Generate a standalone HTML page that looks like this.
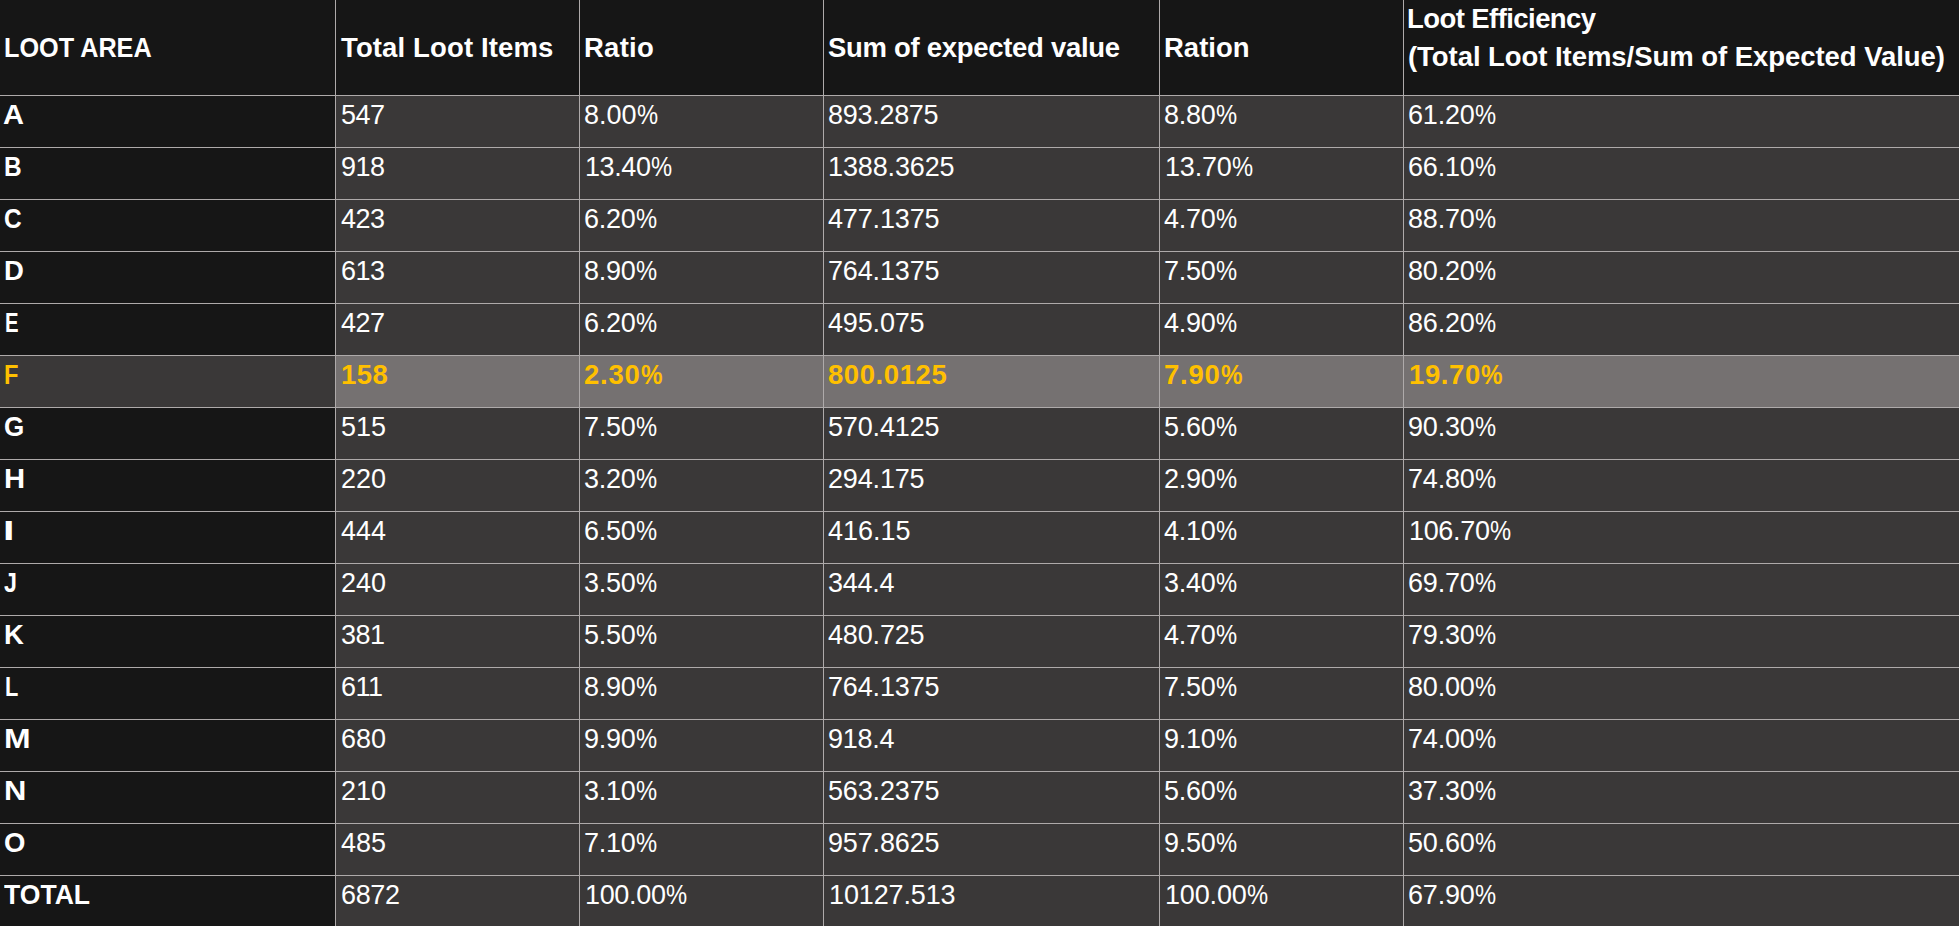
<!DOCTYPE html><html><head><meta charset="utf-8"><title>Loot table</title><style>
html,body{margin:0;padding:0}html{background:#3a3838}body{width:1959px;height:926px;position:relative;overflow:hidden;background:#3a3838;font-family:"Liberation Sans",Arial,sans-serif;color:#fff}
.r{position:absolute}.t{position:absolute;white-space:nowrap}.b{font-weight:bold}.g{color:#ffc000}.p{display:inline-block;width:.78em;transform:scaleX(.88);transform-origin:0 0}
</style></head><body>
<div class="r" style="left:0;top:0;width:1959px;height:95px;background:#161616"></div>
<div class="r" style="left:0;top:0;width:335px;height:926px;background:#161616"></div>
<div class="r" style="left:0;top:355px;width:335px;height:52px;background:#3a3838"></div>
<div class="r" style="left:335px;top:355px;width:1624px;height:52px;background:#757171"></div>
<div class="r" style="left:0;top:95px;width:1959px;height:1px;background:#aeaaaa"></div>
<div class="r" style="left:0;top:147px;width:1959px;height:1px;background:#aeaaaa"></div>
<div class="r" style="left:0;top:199px;width:1959px;height:1px;background:#aeaaaa"></div>
<div class="r" style="left:0;top:251px;width:1959px;height:1px;background:#aeaaaa"></div>
<div class="r" style="left:0;top:303px;width:1959px;height:1px;background:#aeaaaa"></div>
<div class="r" style="left:0;top:355px;width:1959px;height:1px;background:#aeaaaa"></div>
<div class="r" style="left:0;top:407px;width:1959px;height:1px;background:#aeaaaa"></div>
<div class="r" style="left:0;top:459px;width:1959px;height:1px;background:#aeaaaa"></div>
<div class="r" style="left:0;top:511px;width:1959px;height:1px;background:#aeaaaa"></div>
<div class="r" style="left:0;top:563px;width:1959px;height:1px;background:#aeaaaa"></div>
<div class="r" style="left:0;top:615px;width:1959px;height:1px;background:#aeaaaa"></div>
<div class="r" style="left:0;top:667px;width:1959px;height:1px;background:#aeaaaa"></div>
<div class="r" style="left:0;top:719px;width:1959px;height:1px;background:#aeaaaa"></div>
<div class="r" style="left:0;top:771px;width:1959px;height:1px;background:#aeaaaa"></div>
<div class="r" style="left:0;top:823px;width:1959px;height:1px;background:#aeaaaa"></div>
<div class="r" style="left:0;top:875px;width:1959px;height:1px;background:#aeaaaa"></div>
<div class="r" style="left:335px;top:0;width:1px;height:926px;background:#aeaaaa"></div>
<div class="r" style="left:579px;top:0;width:1px;height:926px;background:#aeaaaa"></div>
<div class="r" style="left:823px;top:0;width:1px;height:926px;background:#aeaaaa"></div>
<div class="r" style="left:1159px;top:0;width:1px;height:926px;background:#aeaaaa"></div>
<div class="r" style="left:1403px;top:0;width:1px;height:926px;background:#aeaaaa"></div>
<div class="t b" style="left:4.00px;top:33.72px;font-size:27.50px;line-height:27.50px;transform:scaleX(0.9177);transform-origin:0 0">LOOT AREA</div>
<div class="t b" style="left:341.00px;top:33.72px;font-size:27.50px;line-height:27.50px;letter-spacing:0.133px">Total Loot Items</div>
<div class="t b" style="left:584.00px;top:33.72px;font-size:27.50px;line-height:27.50px;letter-spacing:0.250px">Ratio</div>
<div class="t b" style="left:828.00px;top:33.72px;font-size:27.50px;line-height:27.50px;letter-spacing:-0.300px">Sum of expected value</div>
<div class="t b" style="left:1164.00px;top:33.72px;font-size:27.50px;line-height:27.50px">Ration</div>
<div class="t b" style="left:1407.00px;top:4.72px;font-size:27.50px;line-height:27.50px;letter-spacing:-0.571px">Loot Efficiency</div>
<div class="t b" style="left:1408.00px;top:42.72px;font-size:27.50px;line-height:27.50px;letter-spacing:-0.051px">(Total Loot Items/Sum of Expected Value)</div>
<div class="t b" style="left:3.00px;top:100.72px;font-size:27.50px;line-height:27.50px;transform:scaleX(1.0556);transform-origin:0 0">A</div>
<div class="t" style="left:341.00px;top:102.14px;font-size:27.00px;line-height:27.00px;letter-spacing:-0.500px">547</div>
<div class="t" style="left:584.00px;top:102.14px;font-size:27.00px;line-height:27.00px">8.00<span class="p">%</span></div>
<div class="t" style="left:828.00px;top:102.14px;font-size:27.00px;line-height:27.00px;letter-spacing:-0.286px">893.2875</div>
<div class="t" style="left:1164.00px;top:102.14px;font-size:27.00px;line-height:27.00px;letter-spacing:-0.250px">8.80<span class="p">%</span></div>
<div class="t" style="left:1408.00px;top:102.14px;font-size:27.00px;line-height:27.00px;letter-spacing:-0.200px">61.20<span class="p">%</span></div>
<div class="t b" style="left:4.00px;top:152.72px;font-size:27.50px;line-height:27.50px;transform:scaleX(0.8863);transform-origin:0 0">B</div>
<div class="t" style="left:341.00px;top:154.14px;font-size:27.00px;line-height:27.00px;letter-spacing:-0.500px">918</div>
<div class="t" style="left:585.00px;top:154.14px;font-size:27.00px;line-height:27.00px;letter-spacing:-0.400px">13.40<span class="p">%</span></div>
<div class="t" style="left:828.00px;top:154.14px;font-size:27.00px;line-height:27.00px;letter-spacing:-0.125px">1388.3625</div>
<div class="t" style="left:1165.00px;top:154.14px;font-size:27.00px;line-height:27.00px;letter-spacing:-0.200px">13.70<span class="p">%</span></div>
<div class="t" style="left:1408.00px;top:154.14px;font-size:27.00px;line-height:27.00px;letter-spacing:-0.200px">66.10<span class="p">%</span></div>
<div class="t b" style="left:4.00px;top:204.72px;font-size:27.50px;line-height:27.50px;transform:scaleX(0.8889);transform-origin:0 0">C</div>
<div class="t" style="left:341.00px;top:206.14px;font-size:27.00px;line-height:27.00px;letter-spacing:-0.500px">423</div>
<div class="t" style="left:584.00px;top:206.14px;font-size:27.00px;line-height:27.00px;letter-spacing:-0.250px">6.20<span class="p">%</span></div>
<div class="t" style="left:828.00px;top:206.14px;font-size:27.00px;line-height:27.00px;letter-spacing:-0.143px">477.1375</div>
<div class="t" style="left:1164.00px;top:206.14px;font-size:27.00px;line-height:27.00px;letter-spacing:-0.250px">4.70<span class="p">%</span></div>
<div class="t" style="left:1408.00px;top:206.14px;font-size:27.00px;line-height:27.00px;letter-spacing:-0.200px">88.70<span class="p">%</span></div>
<div class="t b" style="left:4.00px;top:256.72px;font-size:27.50px;line-height:27.50px">D</div>
<div class="t" style="left:341.00px;top:258.14px;font-size:27.00px;line-height:27.00px;letter-spacing:-0.500px">613</div>
<div class="t" style="left:584.00px;top:258.14px;font-size:27.00px;line-height:27.00px;letter-spacing:-0.250px">8.90<span class="p">%</span></div>
<div class="t" style="left:828.00px;top:258.14px;font-size:27.00px;line-height:27.00px;letter-spacing:-0.143px">764.1375</div>
<div class="t" style="left:1164.00px;top:258.14px;font-size:27.00px;line-height:27.00px;letter-spacing:-0.250px">7.50<span class="p">%</span></div>
<div class="t" style="left:1408.00px;top:258.14px;font-size:27.00px;line-height:27.00px;letter-spacing:-0.200px">80.20<span class="p">%</span></div>
<div class="t b" style="left:5.00px;top:308.72px;font-size:27.50px;line-height:27.50px;transform:scaleX(0.7385);transform-origin:0 0">E</div>
<div class="t" style="left:341.00px;top:310.14px;font-size:27.00px;line-height:27.00px;letter-spacing:-0.500px">427</div>
<div class="t" style="left:584.00px;top:310.14px;font-size:27.00px;line-height:27.00px;letter-spacing:-0.250px">6.20<span class="p">%</span></div>
<div class="t" style="left:828.00px;top:310.14px;font-size:27.00px;line-height:27.00px;letter-spacing:-0.167px">495.075</div>
<div class="t" style="left:1164.00px;top:310.14px;font-size:27.00px;line-height:27.00px;letter-spacing:-0.250px">4.90<span class="p">%</span></div>
<div class="t" style="left:1408.00px;top:310.14px;font-size:27.00px;line-height:27.00px;letter-spacing:-0.200px">86.20<span class="p">%</span></div>
<div class="t b g" style="left:4.00px;top:360.72px;font-size:27.50px;line-height:27.50px;transform:scaleX(0.8571);transform-origin:0 0">F</div>
<div class="t b g" style="left:341.00px;top:360.72px;font-size:27.50px;line-height:27.50px;letter-spacing:0.500px">158</div>
<div class="t b g" style="left:584.00px;top:360.72px;font-size:27.50px;line-height:27.50px;letter-spacing:0.750px">2.30<span class="p">%</span></div>
<div class="t b g" style="left:828.00px;top:360.72px;font-size:27.50px;line-height:27.50px;letter-spacing:0.571px">800.0125</div>
<div class="t b g" style="left:1164.00px;top:360.72px;font-size:27.50px;line-height:27.50px;letter-spacing:0.750px">7.90<span class="p">%</span></div>
<div class="t b g" style="left:1409.00px;top:360.72px;font-size:27.50px;line-height:27.50px;letter-spacing:0.600px">19.70<span class="p">%</span></div>
<div class="t b" style="left:4.00px;top:412.72px;font-size:27.50px;line-height:27.50px;transform:scaleX(0.9474);transform-origin:0 0">G</div>
<div class="t" style="left:341.00px;top:414.14px;font-size:27.00px;line-height:27.00px">515</div>
<div class="t" style="left:584.00px;top:414.14px;font-size:27.00px;line-height:27.00px;letter-spacing:-0.250px">7.50<span class="p">%</span></div>
<div class="t" style="left:828.00px;top:414.14px;font-size:27.00px;line-height:27.00px;letter-spacing:-0.143px">570.4125</div>
<div class="t" style="left:1164.00px;top:414.14px;font-size:27.00px;line-height:27.00px;letter-spacing:-0.250px">5.60<span class="p">%</span></div>
<div class="t" style="left:1408.00px;top:414.14px;font-size:27.00px;line-height:27.00px;letter-spacing:-0.200px">90.30<span class="p">%</span></div>
<div class="t b" style="left:4.00px;top:464.72px;font-size:27.50px;line-height:27.50px;transform:scaleX(1.0625);transform-origin:0 0">H</div>
<div class="t" style="left:341.00px;top:466.14px;font-size:27.00px;line-height:27.00px">220</div>
<div class="t" style="left:584.00px;top:466.14px;font-size:27.00px;line-height:27.00px;letter-spacing:-0.250px">3.20<span class="p">%</span></div>
<div class="t" style="left:828.00px;top:466.14px;font-size:27.00px;line-height:27.00px;letter-spacing:-0.167px">294.175</div>
<div class="t" style="left:1164.00px;top:466.14px;font-size:27.00px;line-height:27.00px;letter-spacing:-0.250px">2.90<span class="p">%</span></div>
<div class="t" style="left:1408.00px;top:466.14px;font-size:27.00px;line-height:27.00px;letter-spacing:-0.200px">74.80<span class="p">%</span></div>
<div class="t b" style="left:3.00px;top:516.72px;font-size:27.50px;line-height:27.50px;transform:scaleX(1.5000);transform-origin:0 0">I</div>
<div class="t" style="left:341.00px;top:518.14px;font-size:27.00px;line-height:27.00px">444</div>
<div class="t" style="left:584.00px;top:518.14px;font-size:27.00px;line-height:27.00px;letter-spacing:-0.250px">6.50<span class="p">%</span></div>
<div class="t" style="left:828.00px;top:518.14px;font-size:27.00px;line-height:27.00px">416.15</div>
<div class="t" style="left:1164.00px;top:518.14px;font-size:27.00px;line-height:27.00px;letter-spacing:-0.250px">4.10<span class="p">%</span></div>
<div class="t" style="left:1409.00px;top:518.14px;font-size:27.00px;line-height:27.00px;letter-spacing:-0.333px">106.70<span class="p">%</span></div>
<div class="t b" style="left:4.00px;top:568.72px;font-size:27.50px;line-height:27.50px;transform:scaleX(0.8462);transform-origin:0 0">J</div>
<div class="t" style="left:341.00px;top:570.14px;font-size:27.00px;line-height:27.00px">240</div>
<div class="t" style="left:584.00px;top:570.14px;font-size:27.00px;line-height:27.00px;letter-spacing:-0.250px">3.50<span class="p">%</span></div>
<div class="t" style="left:828.00px;top:570.14px;font-size:27.00px;line-height:27.00px;letter-spacing:-0.250px">344.4</div>
<div class="t" style="left:1164.00px;top:570.14px;font-size:27.00px;line-height:27.00px;letter-spacing:-0.250px">3.40<span class="p">%</span></div>
<div class="t" style="left:1408.00px;top:570.14px;font-size:27.00px;line-height:27.00px;letter-spacing:-0.200px">69.70<span class="p">%</span></div>
<div class="t b" style="left:4.00px;top:620.72px;font-size:27.50px;line-height:27.50px">K</div>
<div class="t" style="left:341.00px;top:622.14px;font-size:27.00px;line-height:27.00px;letter-spacing:-0.500px">381</div>
<div class="t" style="left:584.00px;top:622.14px;font-size:27.00px;line-height:27.00px;letter-spacing:-0.250px">5.50<span class="p">%</span></div>
<div class="t" style="left:828.00px;top:622.14px;font-size:27.00px;line-height:27.00px;letter-spacing:-0.167px">480.725</div>
<div class="t" style="left:1164.00px;top:622.14px;font-size:27.00px;line-height:27.00px;letter-spacing:-0.250px">4.70<span class="p">%</span></div>
<div class="t" style="left:1408.00px;top:622.14px;font-size:27.00px;line-height:27.00px;letter-spacing:-0.200px">79.30<span class="p">%</span></div>
<div class="t b" style="left:5.00px;top:672.72px;font-size:27.50px;line-height:27.50px;transform:scaleX(0.7912);transform-origin:0 0">L</div>
<div class="t" style="left:341.00px;top:674.14px;font-size:27.00px;line-height:27.00px;letter-spacing:-0.500px">611</div>
<div class="t" style="left:584.00px;top:674.14px;font-size:27.00px;line-height:27.00px;letter-spacing:-0.250px">8.90<span class="p">%</span></div>
<div class="t" style="left:828.00px;top:674.14px;font-size:27.00px;line-height:27.00px;letter-spacing:-0.143px">764.1375</div>
<div class="t" style="left:1164.00px;top:674.14px;font-size:27.00px;line-height:27.00px;letter-spacing:-0.250px">7.50<span class="p">%</span></div>
<div class="t" style="left:1408.00px;top:674.14px;font-size:27.00px;line-height:27.00px;letter-spacing:-0.200px">80.00<span class="p">%</span></div>
<div class="t b" style="left:4.00px;top:724.72px;font-size:27.50px;line-height:27.50px;transform:scaleX(1.1601);transform-origin:0 0">M</div>
<div class="t" style="left:341.00px;top:726.14px;font-size:27.00px;line-height:27.00px">680</div>
<div class="t" style="left:584.00px;top:726.14px;font-size:27.00px;line-height:27.00px;letter-spacing:-0.250px">9.90<span class="p">%</span></div>
<div class="t" style="left:828.00px;top:726.14px;font-size:27.00px;line-height:27.00px;letter-spacing:-0.250px">918.4</div>
<div class="t" style="left:1164.00px;top:726.14px;font-size:27.00px;line-height:27.00px;letter-spacing:-0.250px">9.10<span class="p">%</span></div>
<div class="t" style="left:1408.00px;top:726.14px;font-size:27.00px;line-height:27.00px;letter-spacing:-0.200px">74.00<span class="p">%</span></div>
<div class="t b" style="left:4.00px;top:776.72px;font-size:27.50px;line-height:27.50px;transform:scaleX(1.1250);transform-origin:0 0">N</div>
<div class="t" style="left:341.00px;top:778.14px;font-size:27.00px;line-height:27.00px">210</div>
<div class="t" style="left:584.00px;top:778.14px;font-size:27.00px;line-height:27.00px;letter-spacing:-0.250px">3.10<span class="p">%</span></div>
<div class="t" style="left:828.00px;top:778.14px;font-size:27.00px;line-height:27.00px;letter-spacing:-0.143px">563.2375</div>
<div class="t" style="left:1164.00px;top:778.14px;font-size:27.00px;line-height:27.00px;letter-spacing:-0.250px">5.60<span class="p">%</span></div>
<div class="t" style="left:1408.00px;top:778.14px;font-size:27.00px;line-height:27.00px;letter-spacing:-0.200px">37.30<span class="p">%</span></div>
<div class="t b" style="left:4.00px;top:828.72px;font-size:27.50px;line-height:27.50px">O</div>
<div class="t" style="left:341.00px;top:830.14px;font-size:27.00px;line-height:27.00px">485</div>
<div class="t" style="left:584.00px;top:830.14px;font-size:27.00px;line-height:27.00px;letter-spacing:-0.250px">7.10<span class="p">%</span></div>
<div class="t" style="left:828.00px;top:830.14px;font-size:27.00px;line-height:27.00px;letter-spacing:-0.143px">957.8625</div>
<div class="t" style="left:1164.00px;top:830.14px;font-size:27.00px;line-height:27.00px;letter-spacing:-0.250px">9.50<span class="p">%</span></div>
<div class="t" style="left:1408.00px;top:830.14px;font-size:27.00px;line-height:27.00px;letter-spacing:-0.200px">50.60<span class="p">%</span></div>
<div class="t b" style="left:4.00px;top:880.72px;font-size:27.50px;line-height:27.50px;transform:scaleX(0.9659);transform-origin:0 0">TOTAL</div>
<div class="t" style="left:341.00px;top:882.14px;font-size:27.00px;line-height:27.00px;letter-spacing:-0.333px">6872</div>
<div class="t" style="left:585.00px;top:882.14px;font-size:27.00px;line-height:27.00px;letter-spacing:-0.333px">100.00<span class="p">%</span></div>
<div class="t" style="left:829.00px;top:882.14px;font-size:27.00px;line-height:27.00px;letter-spacing:-0.125px">10127.513</div>
<div class="t" style="left:1165.00px;top:882.14px;font-size:27.00px;line-height:27.00px;letter-spacing:-0.167px">100.00<span class="p">%</span></div>
<div class="t" style="left:1408.00px;top:882.14px;font-size:27.00px;line-height:27.00px;letter-spacing:-0.200px">67.90<span class="p">%</span></div>
</body></html>
